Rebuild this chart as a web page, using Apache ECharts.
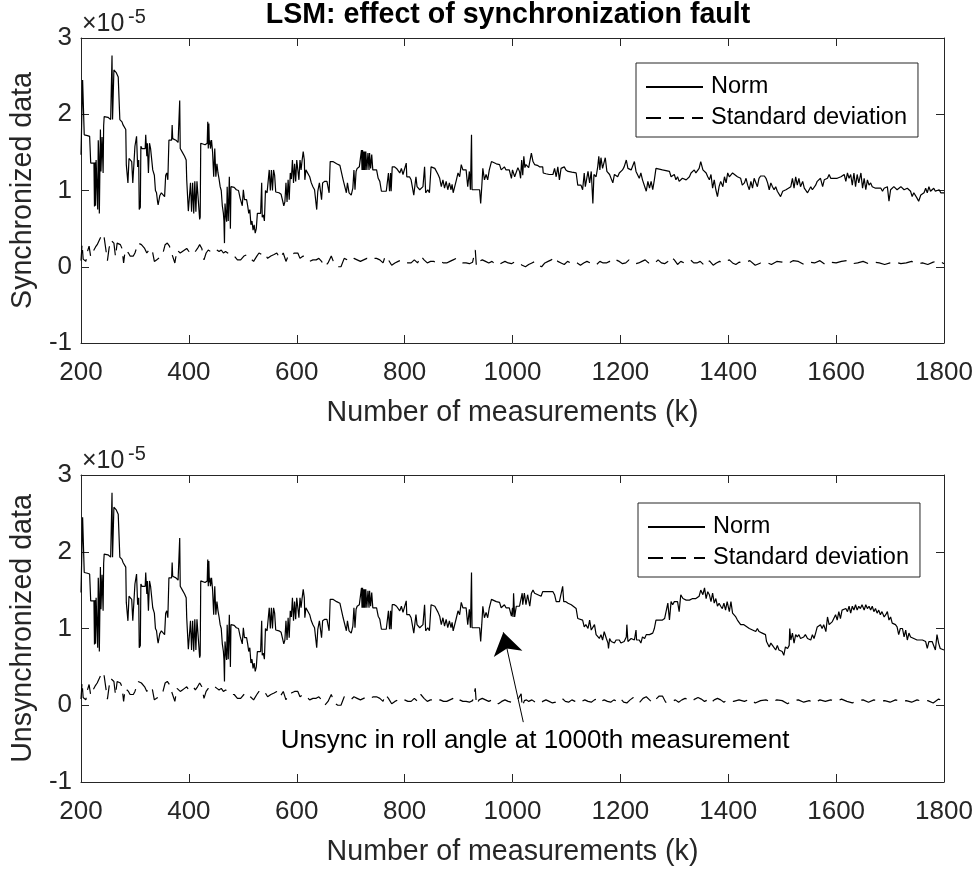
<!DOCTYPE html>
<html><head><meta charset="utf-8">
<script src="https://cdn.jsdelivr.net/npm/echarts@6/dist/echarts.min.js"></script>
<style>html,body{margin:0;padding:0;background:#fff}#c{width:978px;height:872px}</style>
</head><body><div id="c"></div>
<script>
// ---- DATA (values in units of 1e-5) ----
const xTickValues = [200, 400, 600, 800, 1000, 1200, 1400, 1600, 1800];
const yTickValues = [-1, 0, 1, 2, 3];
const seriesNames = ['Norm', 'Standard deviation'];

// Norm, identical in both runs up to ~1000th measurement
const normShared = [[200,1.47],[202,1.45],[203,2.45],[205,2.45],[206,1.73],[212,1.72],[216,1.71],[217,1.70],[218,1.36],[224,1.36],[225,0.79],[226,1.37],[227,0.80],[228,1.40],[230,1.38],[231,0.75],[232,1.66],[233,1.45],[234,0.70],[236,1.80],[237,1.25],[239,1.70],[241,1.23],[242,1.85],[243,1.97],[250,1.96],[255,1.93],[257,1.95],[257.5,2.77],[258.5,1.93],[260,1.92],[261,2.58],[265,2.55],[269,2.49],[272,1.93],[276,1.90],[278,1.86],[281,1.84],[283,1.80],[284,1.34],[286,1.36],[287,1.10],[289,1.42],[291,1.40],[294,1.38],[296,1.10],[298,1.12],[300,1.58],[302,1.60],[303,1.71],[305,1.31],[307,1.40],[308,0.75],[310,0.78],[311,1.58],[313,1.55],[316,1.53],[319,1.55],[320,1.73],[322,1.45],[323,1.62],[325,1.23],[327,1.62],[329,1.55],[331,1.53],[333,1.27],[336,1.20],[338,1.00],[340,0.97],[342,0.85],[343,0.81],[346,0.93],[349,0.97],[352,0.95],[355,0.92],[357,1.20],[359,1.23],[361,1.14],[363,1.66],[366,1.68],[368,1.66],[369,1.86],[370,1.68],[372,1.70],[376,1.66],[380,1.63],[382,1.62],[383,2.18],[384,1.55],[388,1.50],[392,1.45],[395,1.40],[396,1.14],[398,1.12],[399,0.73],[401,0.75],[403,1.10],[405,0.72],[407,1.10],[409,0.70],[411,1.12],[413,0.72],[415,1.12],[418,1.10],[420,0.62],[421,0.65],[422,1.62],[425,1.62],[430,1.60],[434,1.62],[435,1.90],[436,1.55],[437,1.88],[438,1.60],[439,1.66],[440,1.55],[442,1.66],[444,1.50],[446,1.18],[448,1.55],[450,1.18],[452,1.35],[454,1.23],[456,1.15],[458,1.05],[460,1.00],[462,0.80],[464,0.70],[465,0.60],[466,0.31],[467,0.83],[469,0.65],[470,0.59],[471,1.05],[473,0.60],[475,1.18],[477,0.50],[478,1.05],[480,1.05],[484,1.04],[486,1.02],[488,1.01],[492,1.00],[494,1.01],[495,0.90],[497,0.88],[499,0.80],[501,1.01],[503,0.88],[505,0.88],[507,0.88],[509,0.80],[511,0.70],[513,0.75],[515,0.55],[517,0.60],[519,0.48],[521,0.55],[523,0.44],[525,0.50],[527,0.70],[530,0.70],[533,0.70],[535,1.10],[536,0.65],[538,0.68],[540,0.60],[542,1.00],[545,0.97],[547,0.97],[549,1.27],[551,1.00],[553,1.27],[555,1.00],[557,1.27],[559,1.20],[561,0.98],[563,0.97],[567,0.97],[571,0.95],[574,0.97],[576,0.80],[578,0.85],[580,1.10],[582,0.85],[584,1.14],[586,0.88],[588,1.23],[590,1.15],[592,1.40],[594,1.10],[596,1.35],[598,1.12],[600,1.40],
[602,1.40],[604,1.14],[606,1.40],[608,1.27],[610,1.40],[612,1.51],[614,1.40],[615,1.14],[617,1.27],[620,1.25],[624,1.18],[627,1.10],[630,1.05],[633,1.01],[636,0.99],[637,0.75],[639,0.99],[640,0.97],[642,1.10],[645,1.08],[646,0.88],[648,1.10],[652,1.12],[656,1.12],[658,1.10],[660,0.97],[661,0.97],[662,1.38],[667,1.38],[674,1.35],[680,1.33],[683,1.31],[686,1.14],[689,1.12],[692,0.97],[694,1.10],[695,1.10],[697,0.97],[700,0.96],[701,0.94],[704,1.03],[706,1.27],[708,1.01],[710,1.25],[712,1.29],[714,1.27],[716,1.31],[718,1.31],[720,1.53],[721,1.27],[722,1.53],[723,1.27],[724,1.51],[725,1.27],[726,1.51],[727,1.27],[728,1.51],[730,1.27],[732,1.49],[734,1.27],[735,1.49],[737,1.29],[739,1.47],[741,1.27],[744,1.27],[748,1.27],[751,1.16],[754,1.12],[757,0.99],[760,0.99],[766,0.99],[769,0.99],[770,1.23],[772,0.99],[774,1.23],[775,0.99],[777,1.31],[781,1.31],[785,1.29],[788,1.27],[791,1.23],[794,1.29],[797,1.21],[800,1.21],[803,1.36],[804,1.18],[809,1.18],[812,1.14],[815,1.16],[817,0.94],[819,0.92],[821,1.18],[823,1.05],[825,1.05],[828,1.01],[831,1.01],[834,1.05],[837,1.31],[839,0.97],[843,1.01],[846,0.97],[849,1.31],[852,1.31],[856,1.29],[859,1.27],[862,1.21],[865,1.16],[868,1.05],[871,1.14],[874,1.03],[877,1.12],[880,1.01],[883,1.10],[886,1.01],[888,1.08],[890,0.97],[893,0.97],[896,1.14],[899,1.23],[902,1.18],[905,1.34],[908,1.27],[911,1.25],[914,1.27],[917,1.05],[920,1.25],[922,1.01],[924,1.73],[925,1.01],[927,1.01],[933,1.01],[939,1.01],[941,0.83],[943,1.05],[945,1.29],[948,1.14],[951,1.21],[954,1.14],[957,1.27],[961,1.38],[964,1.38],[970,1.35],[976,1.34],[979,1.27],[982,1.29],[985,1.31],[988,1.27],[994,1.27],[998,1.16],[1000,1.27]];

// Norm after 1000th measurement, synchronized data
const normSyncTail = [[1004,1.18],[1007,1.18],[1010,1.30],[1013,1.25],[1015,1.16],[1017,1.40],[1019,1.20],[1021,1.45],[1023,1.30],[1025,1.34],[1030,1.30],[1032,1.29],[1035,1.49],[1038,1.38],[1041,1.34],[1046,1.33],[1050,1.31],[1056,1.31],[1057,1.23],[1062,1.22],[1068,1.21],[1075,1.21],[1078,1.29],[1081,1.18],[1084,1.31],[1087,1.14],[1090,1.29],[1096,1.31],[1099,1.27],[1103,1.25],[1110,1.24],[1118,1.23],[1121,1.07],[1127,1.07],[1130,1.01],[1133,1.23],[1135,1.05],[1140,1.25],[1143,1.10],[1146,1.25],[1149,0.83],[1151,1.21],[1155,1.18],[1158,1.31],[1160,1.45],[1162,1.27],[1164,1.43],[1167,1.29],[1170,1.27],[1172,1.43],[1175,1.25],[1177,1.25],[1180,1.21],[1183,1.23],[1186,1.10],[1189,1.21],[1192,1.21],[1195,1.18],[1198,1.23],[1201,1.25],[1204,1.27],[1207,1.31],[1211,1.40],[1214,1.29],[1217,1.29],[1220,1.27],[1223,1.29],[1226,1.38],[1229,1.25],[1232,1.27],[1235,1.16],[1238,1.23],[1241,1.14],[1244,1.14],[1248,0.99],[1251,1.12],[1254,1.03],[1257,1.12],[1260,1.01],[1263,1.14],[1266,1.29],[1269,1.29],[1278,1.27],[1291,1.25],[1294,1.18],[1300,1.21],[1303,1.14],[1306,1.18],[1309,1.12],[1315,1.16],[1322,1.14],[1325,1.16],[1328,1.18],[1331,1.23],[1334,1.25],[1337,1.27],[1340,1.23],[1343,1.25],[1346,1.29],[1349,1.38],[1353,1.27],[1356,1.25],[1359,1.23],[1362,1.18],[1365,1.14],[1368,1.21],[1371,1.03],[1374,1.14],[1377,1.01],[1380,0.92],[1383,1.05],[1386,1.12],[1390,1.05],[1393,1.18],[1396,1.10],[1399,1.23],[1402,1.18],[1408,1.23],[1411,1.21],[1417,1.18],[1423,1.16],[1426,1.07],[1430,1.10],[1433,1.16],[1436,1.07],[1439,1.01],[1442,1.12],[1445,1.03],[1448,1.16],[1451,1.16],[1454,1.05],[1457,1.16],[1460,1.19],[1467,1.19],[1470,1.16],[1473,1.10],[1476,1.01],[1479,1.10],[1482,1.05],[1485,1.01],[1488,1.05],[1491,0.99],[1494,0.97],[1497,0.92],[1501,0.99],[1504,0.97],[1507,1.01],[1510,1.01],[1516,1.05],[1519,1.16],[1522,1.03],[1525,1.18],[1528,1.07],[1531,1.16],[1534,1.05],[1538,1.12],[1541,1.03],[1544,1.01],[1547,0.97],[1550,0.97],[1553,1.05],[1556,1.01],[1559,1.03],[1562,1.07],[1565,1.12],[1568,1.10],[1571,1.16],[1575,1.05],[1578,1.14],[1581,1.16],[1584,1.16],[1587,1.21],[1590,1.16],[1596,1.16],[1602,1.16],[1605,1.14],[1609,1.18],[1615,1.21],[1618,1.12],[1621,1.23],[1624,1.16],[1627,1.21],[1630,1.07],[1633,1.23],[1636,1.05],[1639,1.21],[1642,1.10],[1646,1.23],[1649,1.03],[1652,1.16],[1655,1.01],[1658,1.14],[1661,1.07],[1664,1.10],[1667,1.05],[1670,1.07],[1673,1.03],[1676,1.05],[1683,1.03],[1686,0.99],[1689,1.03],[1695,1.05],[1698,0.86],[1701,1.01],[1707,1.05],[1713,1.01],[1720,1.05],[1726,1.01],[1732,1.03],[1738,0.99],[1741,0.92],[1744,0.97],[1747,0.97],[1750,0.90],[1753,0.86],[1757,0.94],[1763,0.97],[1766,1.03],[1769,0.97],[1772,1.05],[1775,0.99],[1781,1.03],[1784,0.99],[1791,1.01],[1794,0.97],[1800,0.97]];

// Norm after 1000th measurement, unsynchronized data
const normUnsyncTail = [[1001,1.15],[1002,1.46],[1004,1.15],[1007,1.29],[1010,1.29],[1013,1.29],[1016,1.29],[1018,1.46],[1019,1.31],[1022,1.46],[1025,1.31],[1028,1.44],[1032,1.29],[1035,1.46],[1038,1.50],[1041,1.46],[1044,1.48],[1047,1.44],[1050,1.44],[1053,1.42],[1056,1.48],[1062,1.48],[1069,1.48],[1075,1.48],[1078,1.44],[1081,1.35],[1087,1.35],[1090,1.33],[1093,1.55],[1095,1.35],[1096,1.33],[1099,1.35],[1103,1.33],[1106,1.31],[1109,1.31],[1112,1.29],[1118,1.26],[1121,1.13],[1124,1.13],[1130,1.11],[1133,1.02],[1136,1.05],[1140,1.00],[1143,1.11],[1146,0.98],[1149,1.00],[1152,1.05],[1155,0.92],[1158,0.94],[1161,0.87],[1164,0.92],[1167,0.85],[1170,0.96],[1174,0.87],[1177,0.81],[1178,0.74],[1180,0.87],[1183,0.83],[1186,0.85],[1189,0.81],[1192,0.85],[1195,0.83],[1198,0.85],[1201,0.81],[1204,0.83],[1207,0.83],[1211,0.89],[1212,1.05],[1214,0.83],[1217,0.85],[1220,0.87],[1223,0.87],[1226,0.85],[1229,0.98],[1230,0.85],[1232,0.87],[1235,0.85],[1238,0.81],[1241,0.89],[1245,0.87],[1248,0.92],[1254,0.92],[1260,0.94],[1263,1.00],[1266,1.11],[1272,1.11],[1278,1.11],[1282,1.13],[1285,1.15],[1288,1.33],[1291,1.11],[1294,1.35],[1297,1.31],[1300,1.35],[1303,1.33],[1306,1.35],[1309,1.22],[1312,1.44],[1316,1.39],[1319,1.37],[1322,1.37],[1328,1.37],[1334,1.39],[1340,1.39],[1346,1.42],[1349,1.50],[1353,1.44],[1356,1.53],[1359,1.39],[1362,1.48],[1365,1.44],[1368,1.35],[1371,1.46],[1374,1.33],[1377,1.39],[1380,1.29],[1383,1.33],[1386,1.29],[1389,1.26],[1392,1.33],[1395,1.24],[1398,1.35],[1402,1.22],[1405,1.35],[1408,1.20],[1411,1.18],[1414,1.15],[1417,1.11],[1420,1.13],[1423,1.05],[1426,1.05],[1429,1.05],[1432,1.05],[1435,1.02],[1439,1.00],[1442,1.02],[1445,0.98],[1448,1.00],[1451,0.96],[1454,1.00],[1457,0.96],[1460,0.94],[1463,0.94],[1466,0.94],[1469,0.92],[1471,0.83],[1473,0.83],[1476,0.76],[1479,0.81],[1482,0.78],[1485,0.76],[1488,0.72],[1491,0.78],[1494,0.72],[1497,0.74],[1500,0.70],[1503,0.65],[1506,0.76],[1510,0.74],[1513,0.78],[1514,1.00],[1516,0.85],[1519,0.94],[1522,0.81],[1525,0.92],[1528,0.89],[1531,0.92],[1534,0.87],[1537,0.89],[1540,0.89],[1543,0.92],[1547,0.87],[1550,0.89],[1553,0.85],[1556,0.92],[1559,0.87],[1562,0.94],[1565,1.02],[1568,1.00],[1571,1.05],[1574,1.00],[1577,1.05],[1581,0.96],[1584,1.15],[1587,1.05],[1590,1.07],[1593,1.09],[1596,1.11],[1599,1.18],[1602,1.11],[1605,1.22],[1608,1.13],[1611,1.24],[1614,1.24],[1618,1.26],[1621,1.22],[1624,1.29],[1627,1.20],[1630,1.29],[1633,1.24],[1636,1.31],[1639,1.24],[1642,1.29],[1645,1.26],[1648,1.31],[1652,1.24],[1655,1.31],[1658,1.26],[1661,1.29],[1664,1.24],[1667,1.29],[1670,1.22],[1673,1.26],[1676,1.20],[1679,1.24],[1682,1.18],[1685,1.22],[1689,1.15],[1692,1.18],[1695,1.22],[1698,1.11],[1701,1.15],[1704,1.07],[1707,1.07],[1710,1.05],[1713,1.02],[1716,0.92],[1719,1.00],[1723,1.00],[1726,0.89],[1729,0.98],[1732,0.85],[1735,0.94],[1738,0.89],[1741,0.89],[1744,0.87],[1747,0.85],[1750,0.85],[1753,0.85],[1756,0.85],[1760,0.85],[1766,0.83],[1769,0.74],[1772,0.83],[1778,0.83],[1781,0.85],[1784,0.72],[1787,0.92],[1790,0.81],[1793,0.74],[1796,0.72],[1800,0.72]];

// Standard deviation, shared part
const stdShared = [[200,0.08],[202,0.30],[204,0.10],[206,0.12],[209,0.07],[212,0.20],[215,0.27],[218,0.13],[221,0.18],[224,0.20],[227,0.26],[230,0.29],[233,0.27],[236,0.38],[239,0.40],[242,0.43],[245,0.44],[249,0.08],[252,0.24],[255,0.35],[258,0.37],[261,0.31],[264,0.13],[267,0.31],[270,0.33],[273,0.29],[276,0.24],[279,0.05],[282,0.22],[285,0.24],[288,0.18],[291,0.14],[294,0.14],[297,0.14],[300,0.18],[303,0.20],[306,0.31],[309,0.33],[312,0.29],[315,0.27],[318,0.24],[322,0.18],[328,0.24],[332,0.22],[336,0.07],[340,0.09],[344,0.11],[348,0.13],[352,0.18],[356,0.29],[360,0.31],[364,0.27],[367,0.20],[370,0.18],[374,0.05],[378,0.22],[381,0.24],[384,0.18],[388,0.20],[392,0.22],[396,0.24],[400,0.20],[404,0.22],[408,0.24],[412,0.20],[416,0.24],[420,0.29],[424,0.24],[428,0.09],[432,0.18],[436,0.22],[440,0.20],[444,0.22],[448,0.24],[452,0.22],[456,0.20],[460,0.22],[464,0.18],[468,0.20],[472,0.18],[478,0.14],[484,0.14],[490,0.09],[496,0.09],[502,0.14],[508,0.16],[514,0.11],[520,0.07],[526,0.14],[530,0.18],[535,0.16],[540,0.18],[546,0.11],[552,0.14],[558,0.16],[563,0.18],[569,0.11],[575,0.18],[580,0.07],[585,0.16],[590,0.16],[596,0.18],[602,0.18],[606,0.11],[612,0.14],[618,0.11],[624,0.07],[630,0.09],[636,0.09],[641,0.11],[646,0.07],[652,0.00],[658,0.05],[664,0.14],[670,0.03],[676,0.00],[682,0.00],[688,0.11],[694,0.09],[700,0.07],[706,0.11],[712,0.09],[718,0.07],[724,0.09],[730,0.11],[736,0.09],[742,0.11],[748,0.11],[754,0.09],[760,0.05],[764,0.14],[770,0.09],[776,0.02],[782,0.05],[788,0.07],[794,0.09],[800,0.07],[806,0.05],[812,0.05],[818,0.09],[824,0.05],[830,0.14],[836,0.09],[842,0.05],[848,0.07],[854,0.07],[860,0.05],[866,0.07],[872,0.05],[878,0.05],[884,0.07],[890,0.09],[896,0.11],[902,0.07],[908,0.05],[914,0.05],[920,0.04],[926,0.06],[931,0.22],[933,0.01],[938,0.07],[944,0.09],[950,0.07],[956,0.05],[962,0.07],[968,0.03],[974,0.02],[980,0.05],[986,0.07],[992,0.05],[998,0.04]];

const stdSyncTail = [[1006,0.07],[1012,0.05],[1018,0.02],[1024,0.00],[1030,0.03],[1036,0.05],[1042,0.07],[1048,0.02],[1054,0.00],[1060,0.05],[1066,0.07],[1072,0.09],[1078,0.13],[1084,0.07],[1090,0.05],[1096,0.03],[1102,0.07],[1108,0.05],[1114,0.07],[1120,0.05],[1126,0.02],[1132,0.05],[1138,0.07],[1144,0.05],[1150,0.02],[1156,0.03],[1162,0.07],[1168,0.05],[1174,0.05],[1180,0.07],[1186,0.05],[1192,0.09],[1198,0.07],[1204,0.04],[1210,0.05],[1216,0.09],[1222,0.07],[1228,0.04],[1234,0.05],[1240,0.07],[1246,0.09],[1252,0.05],[1258,0.07],[1264,0.05],[1270,0.09],[1276,0.05],[1282,0.04],[1288,0.07],[1294,0.13],[1300,0.09],[1306,0.03],[1312,0.07],[1318,0.05],[1324,0.07],[1330,0.09],[1336,0.05],[1342,0.05],[1348,0.07],[1354,0.03],[1360,0.09],[1366,0.07],[1372,0.02],[1378,0.05],[1384,0.07],[1390,0.05],[1396,0.07],[1402,0.09],[1408,0.05],[1414,0.03],[1420,0.06],[1430,0.05],[1440,0.08],[1450,0.02],[1460,0.05],[1470,0.06],[1480,0.03],[1490,0.07],[1500,0.06],[1510,0.04],[1520,0.08],[1530,0.07],[1540,0.03],[1550,0.06],[1560,0.05],[1570,0.08],[1580,0.03],[1590,0.06],[1600,0.05],[1610,0.07],[1620,0.08],[1630,0.04],[1640,0.05],[1650,0.07],[1660,0.04],[1670,0.06],[1680,0.05],[1690,0.03],[1700,0.05],[1710,0.06],[1720,0.04],[1730,0.05],[1740,0.07],[1750,0.04],[1760,0.05],[1770,0.03],[1780,0.06],[1790,0.08],[1800,0.04]];

const stdUnsyncTail = [[1006,0.05],[1012,0.10],[1016,0.15],[1018,-0.02],[1022,0.06],[1026,0.07],[1030,0.05],[1036,0.07],[1042,0.04],[1050,0.02],[1056,0.05],[1062,0.07],[1068,0.05],[1074,0.03],[1080,0.04],[1086,0.07],[1092,0.09],[1098,0.05],[1104,0.04],[1110,0.07],[1116,0.05],[1122,0.03],[1128,0.05],[1134,0.07],[1140,0.05],[1146,0.04],[1152,0.07],[1158,0.09],[1164,0.05],[1170,0.07],[1176,0.05],[1182,0.04],[1188,0.07],[1194,0.05],[1200,0.09],[1206,0.04],[1212,0.03],[1218,0.07],[1224,0.10],[1230,0.05],[1236,0.04],[1242,0.09],[1248,0.11],[1254,0.07],[1260,0.03],[1266,0.08],[1272,0.12],[1278,0.12],[1284,0.04],[1290,0.03],[1296,0.05],[1302,0.07],[1308,0.04],[1314,0.07],[1320,0.09],[1326,0.07],[1332,0.05],[1338,0.08],[1344,0.10],[1350,0.08],[1356,0.05],[1362,0.07],[1368,0.03],[1374,0.07],[1380,0.09],[1386,0.07],[1392,0.04],[1398,0.07],[1404,0.06],[1410,0.05],[1420,0.07],[1430,0.05],[1440,0.08],[1450,0.03],[1460,0.06],[1470,0.07],[1480,0.04],[1490,0.07],[1500,0.06],[1510,0.02],[1520,0.06],[1530,0.07],[1540,0.04],[1550,0.06],[1560,0.03],[1570,0.07],[1580,0.05],[1590,0.07],[1600,0.05],[1610,0.08],[1620,0.05],[1630,0.03],[1640,0.06],[1650,0.07],[1660,0.04],[1670,0.07],[1680,0.05],[1690,0.06],[1700,0.04],[1710,0.07],[1720,0.05],[1730,0.06],[1740,0.04],[1750,0.07],[1760,0.05],[1770,0.06],[1780,0.03],[1790,0.08],[1800,0.05]];

// annotation arrow: from text to the curve (data coordinates)
const arrowFrom = [1020, -0.22];
const arrowTo = [983, 0.95];

// ---- CHART ----
const FONT = '"Liberation Sans", Arial, Helvetica, sans-serif';
const AX = '#262626';
const xMin = xTickValues[0], xMax = xTickValues[xTickValues.length - 1], xInt = xTickValues[1] - xTickValues[0];
const yMin = yTickValues[0], yMax = yTickValues[yTickValues.length - 1], yInt = yTickValues[1] - yTickValues[0];
const plain = v => String(v);

function xAxes(gi) {
  const common = {type:'value', gridIndex:gi, min:xMin, max:xMax, interval:xInt,
    axisLine:{onZero:false, lineStyle:{color:AX, width:1}},
    axisTick:{inside:true, length:8, lineStyle:{color:AX, width:1}},
    splitLine:{show:false}};
  return [
    Object.assign({}, common, {position:'bottom',
      axisLabel:{color:AX, fontSize:26, fontFamily:FONT, margin:17, formatter:plain},
      name:'Number of measurements (k)', nameLocation:'middle', nameGap:56,
      nameTextStyle:{color:AX, fontSize:28.6, fontFamily:FONT}}),
    Object.assign({}, common, {position:'top', axisLabel:{show:false}})
  ];
}
function yAxes(gi, name) {
  const common = {type:'value', gridIndex:gi, min:yMin, max:yMax, interval:yInt,
    axisLine:{onZero:false, lineStyle:{color:AX, width:1}},
    axisTick:{inside:true, length:8, lineStyle:{color:AX, width:1}},
    splitLine:{show:false}};
  return [
    Object.assign({}, common, {position:'left',
      axisLabel:{color:AX, fontSize:26, fontFamily:FONT, margin:9, formatter:plain},
      name:name, nameLocation:'middle', nameGap:40,
      nameTextStyle:{color:AX, fontSize:28.6, fontFamily:FONT}}),
    Object.assign({}, common, {position:'right', axisLabel:{show:false}})
  ];
}
function lineSeries(name, data, xi, yi, dashed, extra) {
  return Object.assign({
    name:name, type:'line', xAxisIndex:xi, yAxisIndex:yi, data:data,
    symbol:'none', showSymbol:false, silent:true, clip:true,
    lineStyle:{color:'#000', width:1.2, type: dashed ? [15, 8] : 'solid'},
    itemStyle:{color:'#000'}
  }, extra || {});
}
function legendAt(left, top) {
  return {data:seriesNames, orient:'vertical', left:left, top:top,
    itemWidth:57, itemHeight:14, itemGap:7, padding:[12, 11, 7, 9],
    borderColor:AX, borderWidth:1, backgroundColor:'#fff', selectedMode:false,
    itemStyle:{opacity:0},
    textStyle:{color:'#000', fontSize:23.5, fontFamily:FONT, padding:[0,0,0,3]}};
}

const chart = echarts.init(document.getElementById('c'), null, {renderer:'canvas'});
chart.setOption({
  animation:false,
  backgroundColor:'#fff',
  grid:[{left:81, top:38, width:863, height:305}, {left:81, top:475, width:863, height:307}],
  xAxis: xAxes(0).concat(xAxes(1)),
  yAxis: yAxes(0, 'Synchronized data').concat(yAxes(1, 'Unsynchronized data')),
  legend:[legendAt(636, 63), legendAt(638, 503)],
  series:[
    lineSeries('Norm', normShared.concat(normSyncTail), 0, 0, false),
    lineSeries('Standard deviation', stdShared.concat(stdSyncTail), 0, 0, true),
    lineSeries('Norm', normShared.concat(normUnsyncTail), 2, 2, false, {
      markLine:{silent:true, symbol:['none','arrow'], symbolSize:22,
        lineStyle:{color:'#000', width:1, type:'solid'}, itemStyle:{color:'#000'}, label:{show:false},
        emphasis:{disabled:true},
        data:[[{coord:arrowFrom}, {coord:arrowTo}]]}
    }),
    lineSeries('Standard deviation', stdShared.concat(stdUnsyncTail), 2, 2, true)
  ],
  graphic:[
    {type:'text', x:508, y:15, style:{text:'LSM: effect of synchronization fault', fill:'#000',
      font:'bold 28.6px ' + FONT, textAlign:'center', textVerticalAlign:'middle'}},
    {type:'text', x:82, y:24, style:{text:'×10', fill:AX, font:'25px ' + FONT, textAlign:'left', textVerticalAlign:'middle'}},
    {type:'text', x:128, y:17, style:{text:'-5', fill:AX, font:'20px ' + FONT, textAlign:'left', textVerticalAlign:'middle'}},
    {type:'text', x:82, y:461, style:{text:'×10', fill:AX, font:'25px ' + FONT, textAlign:'left', textVerticalAlign:'middle'}},
    {type:'text', x:128, y:454, style:{text:'-5', fill:AX, font:'20px ' + FONT, textAlign:'left', textVerticalAlign:'middle'}},
    {type:'text', x:535, y:741, style:{text:'Unsync in roll angle at 1000th measurement', fill:'#000',
      font:'26px ' + FONT, textAlign:'center', textVerticalAlign:'middle'}}
  ]
});
</script>
</body></html>
